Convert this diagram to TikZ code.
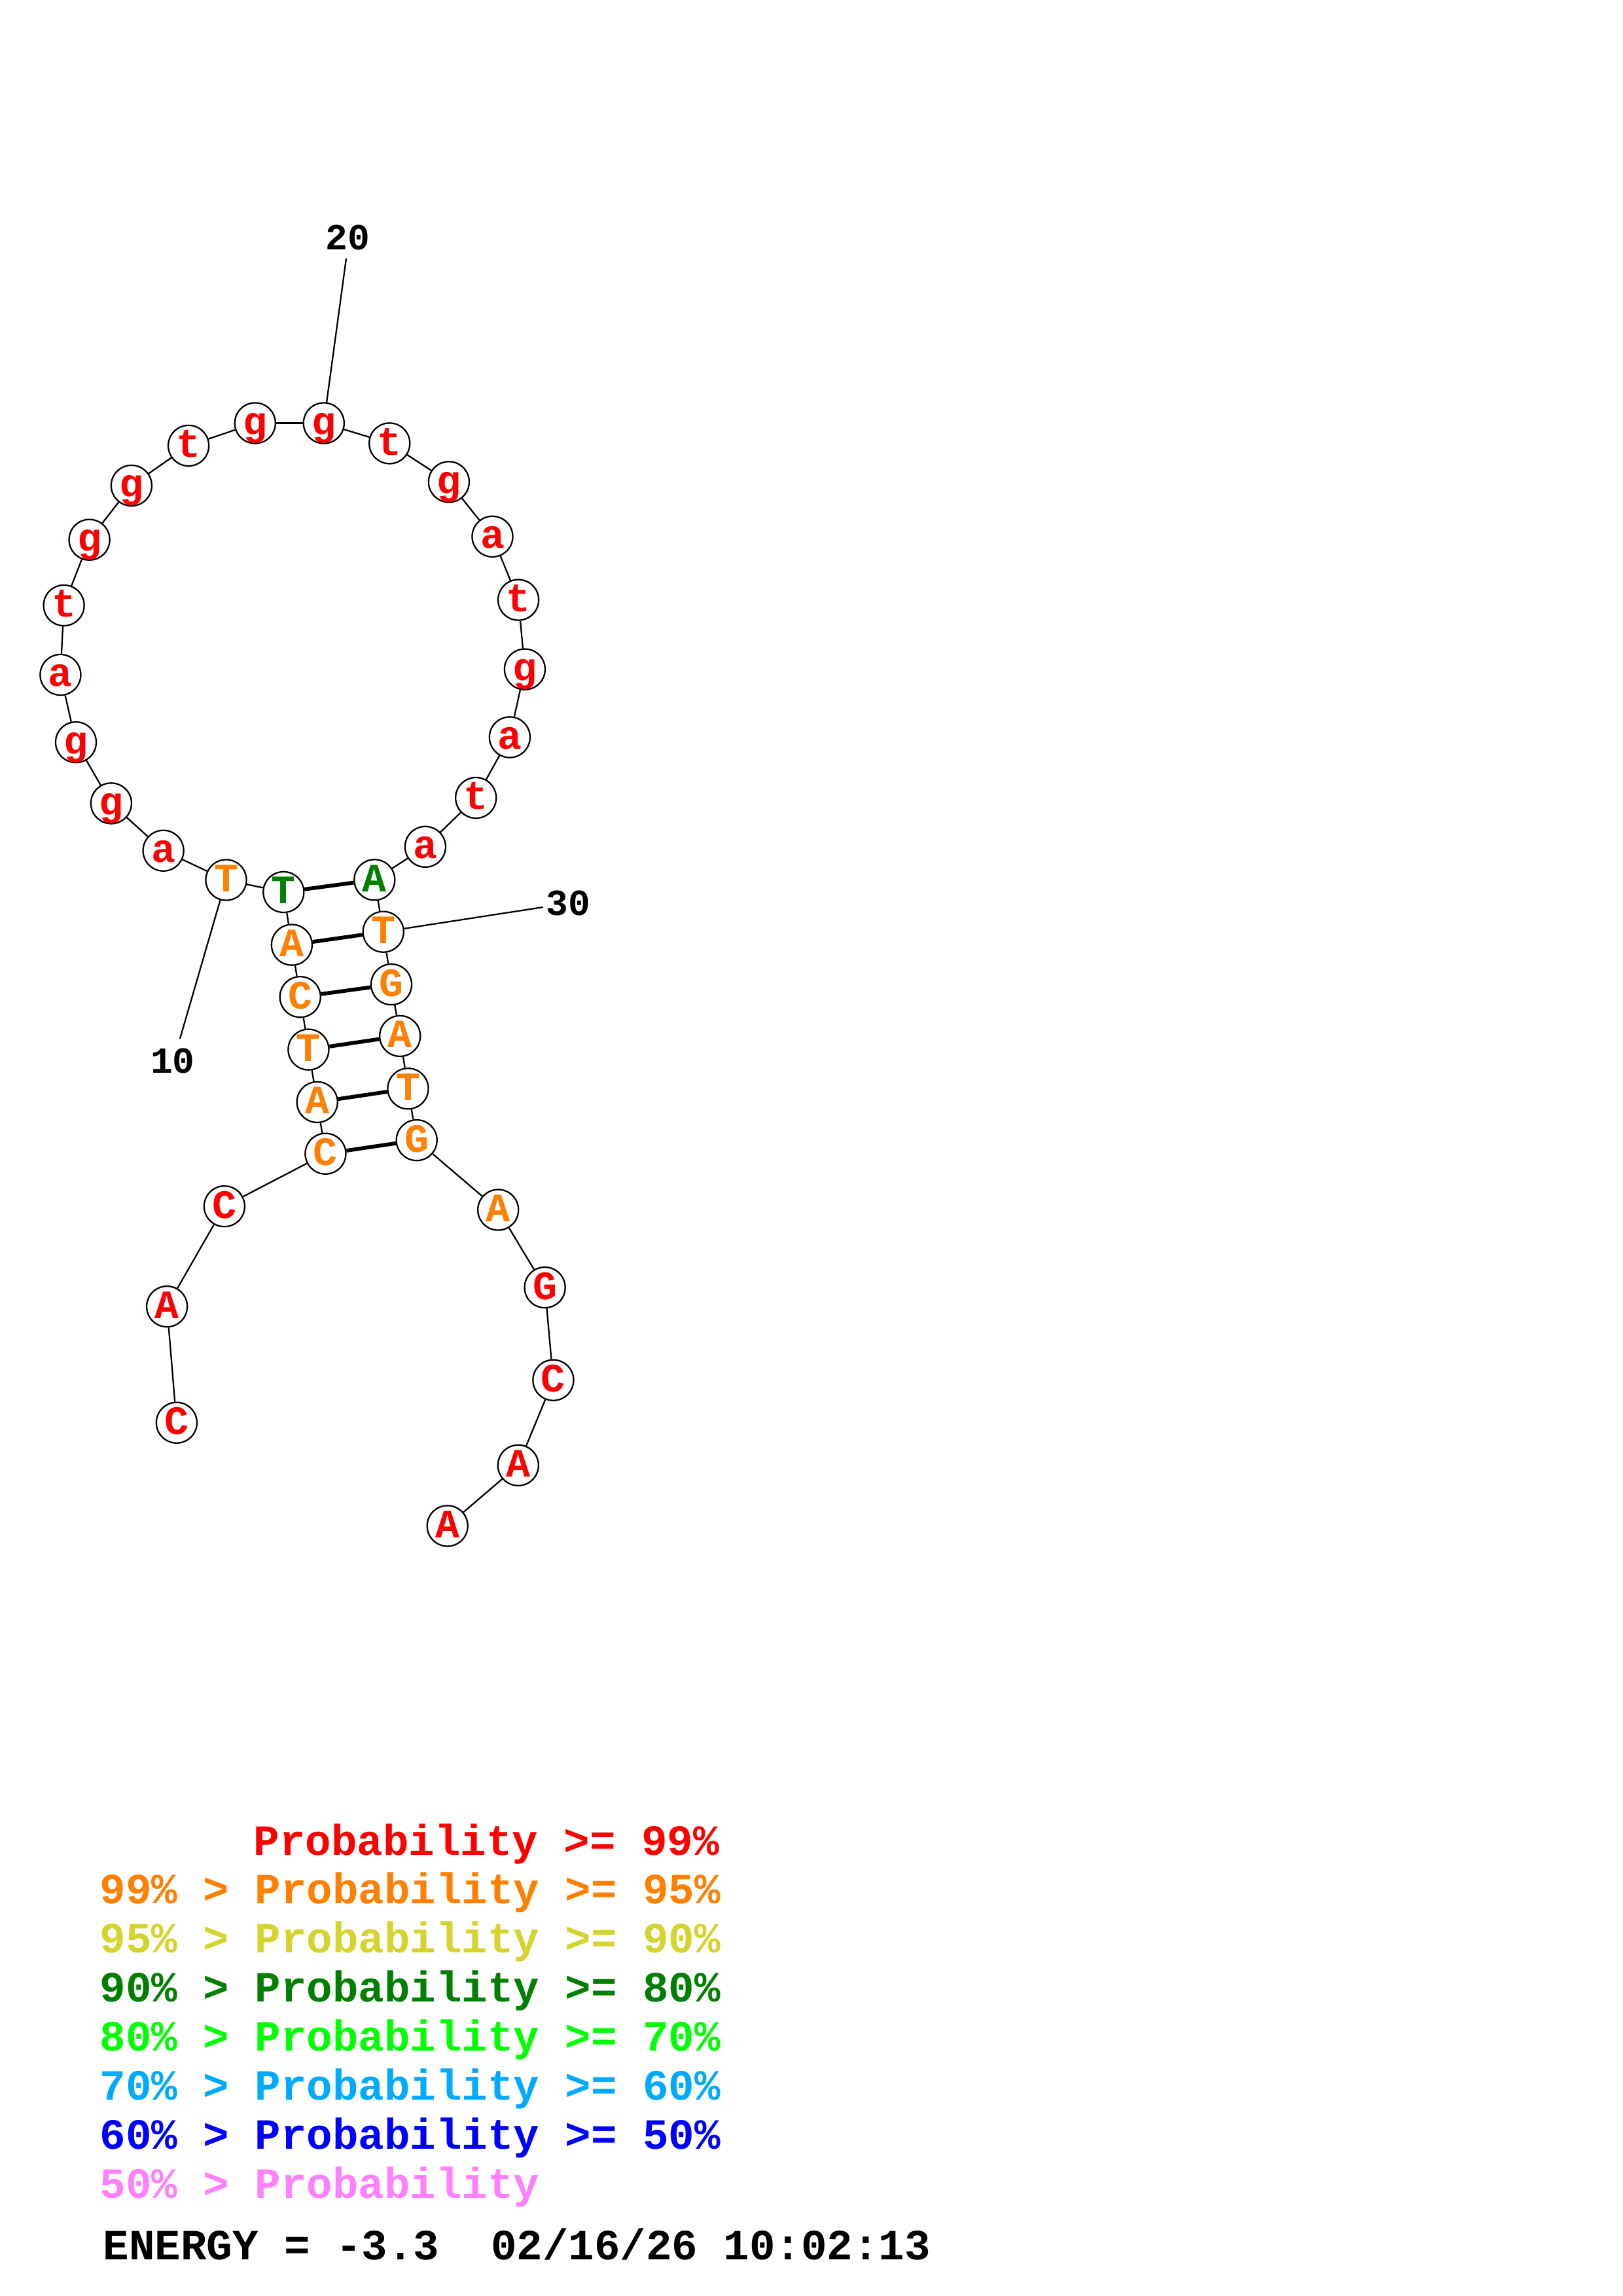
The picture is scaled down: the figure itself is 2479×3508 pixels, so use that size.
\documentclass[tikz,border=0pt]{standalone}
\usepackage{fontspec}
\setmonofont{Liberation Mono}
\definecolor{pr99}{HTML}{FF0000}
\definecolor{pr95}{HTML}{FF8000}
\definecolor{pr90}{HTML}{D4D42C}
\definecolor{pr80}{HTML}{008000}
\definecolor{pr70}{HTML}{00FF00}
\definecolor{pr60}{HTML}{00AAFF}
\definecolor{pr50}{HTML}{0000FF}
\definecolor{prlo}{HTML}{FF80FF}

\begin{document}
\begin{tikzpicture}[x=0.24pt, y=-0.24pt,
  base/.style={circle, draw, fill=white, line width=0.55pt, minimum size=14.9pt,
    inner sep=0pt, text height=8.6pt, text depth=0pt,
    font=\ttfamily\bfseries\fontsize{14.8}{14.8}\selectfont},
  bond/.style={line width=0.55pt},
  pairbond/.style={line width=1.4pt},
  numlab/.style={font=\ttfamily\bfseries\fontsize{13.5}{13.5}\selectfont},
  legend/.style={anchor=base west, font=\ttfamily\bfseries\fontsize{15.8}{15.8}\selectfont}]
  \useasboundingbox (0,0) rectangle (2479,3508);
  \def\lx{138}\def\ly{2834}\def\ldy{74.9}

  % bases (5' end at the bottom left)
  \foreach \i/\x/\y/\b/\c in {
      1/269.9/2173.7/C/pr99, 2/255.1/1996.2/A/pr99, 3/342.9/1843.1/C/pr99,
      4/497.4/1762.7/C/pr95, 5/484.7/1683.9/A/pr95, 6/471.4/1603.6/T/pr95,
      7/458.7/1523.2/C/pr95, 8/445.9/1443.6/A/pr95, 9/433.3/1363.0/T/pr80,
      10/345.5/1344.5/T/pr95, 11/249.6/1299.7/a/pr99, 12/169.9/1227.4/g/pr99,
      13/116.0/1134.1/g/pr99, 14/92.4/1031.0/a/pr99, 15/97.6/925.0/t/pr99,
      16/136.6/824.7/g/pr99, 17/200.9/741.9/g/pr99, 18/288.1/680.9/t/pr99,
      19/389.8/646.5/g/pr99, 20/494.8/646.5/g/pr99, 21/595.2/677.4/t/pr99,
      22/685.9/736.3/g/pr99, 23/752.5/819.8/a/pr99, 24/792.1/916.6/t/pr99,
      25/801.9/1022.6/g/pr99, 26/778.9/1126.4/a/pr99, 27/727.2/1219.0/t/pr99,
      28/649.9/1293.8/a/pr99, 29/572.3/1344.3/A/pr80, 30/585.7/1423.7/T/pr95,
      31/598.0/1504.1/G/pr95, 32/611.2/1582.9/A/pr95, 33/623.5/1663.3/T/pr95,
      34/636.7/1742.1/G/pr95, 35/761.2/1848.5/A/pr95, 36/832.6/1967.1/G/pr99,
      37/845.4/2108.7/C/pr99, 38/791.8/2238.8/A/pr99, 39/683.7/2331.4/A/pr99}
    \node[base, text=\c] (n\i) at (\x,\y) {\b};

  % backbone
  \foreach \i [evaluate=\i as \j using int(\i+1)] in {1,...,38}
    \draw[bond] (n\i) -- (n\j);

  % base pairs
  \foreach \p/\q in {4/34, 5/33, 6/32, 7/31, 8/30, 9/29}
    \draw[pairbond] (n\p) -- (n\q);

  % position ticks
  \coordinate (t10) at (275,1587);
  \coordinate (t20) at (529,395);
  \coordinate (t30) at (830,1386);
  \draw[bond] (n10) -- (t10);
  \draw[bond] (n20) -- (t20);
  \draw[bond] (n30) -- (t30);
  \node[numlab] (l10) at (264,1621) {10};
  \node[numlab] (l20) at (531,363) {20};
  \node[numlab] (l30) at (868,1380) {30};

  % legend
  \node[legend, pr99] (k1) at (373,\ly) {Probability >= 99\%};
  \foreach \c/\txt [count=\k] in {
      pr95/99\% > Probability >= 95\%,
      pr90/95\% > Probability >= 90\%,
      pr80/90\% > Probability >= 80\%,
      pr70/80\% > Probability >= 70\%,
      pr60/70\% > Probability >= 60\%,
      pr50/60\% > Probability >= 50\%,
      prlo/50\% > Probability}
    \node[legend, \c] (k\k) at (\lx,\ly+\k*\ldy) {\txt};
  \node[legend] (energy) at (143,3452) {ENERGY = -3.3\ \ 02/16/26 10:02:13};
\end{tikzpicture}
\end{document}
